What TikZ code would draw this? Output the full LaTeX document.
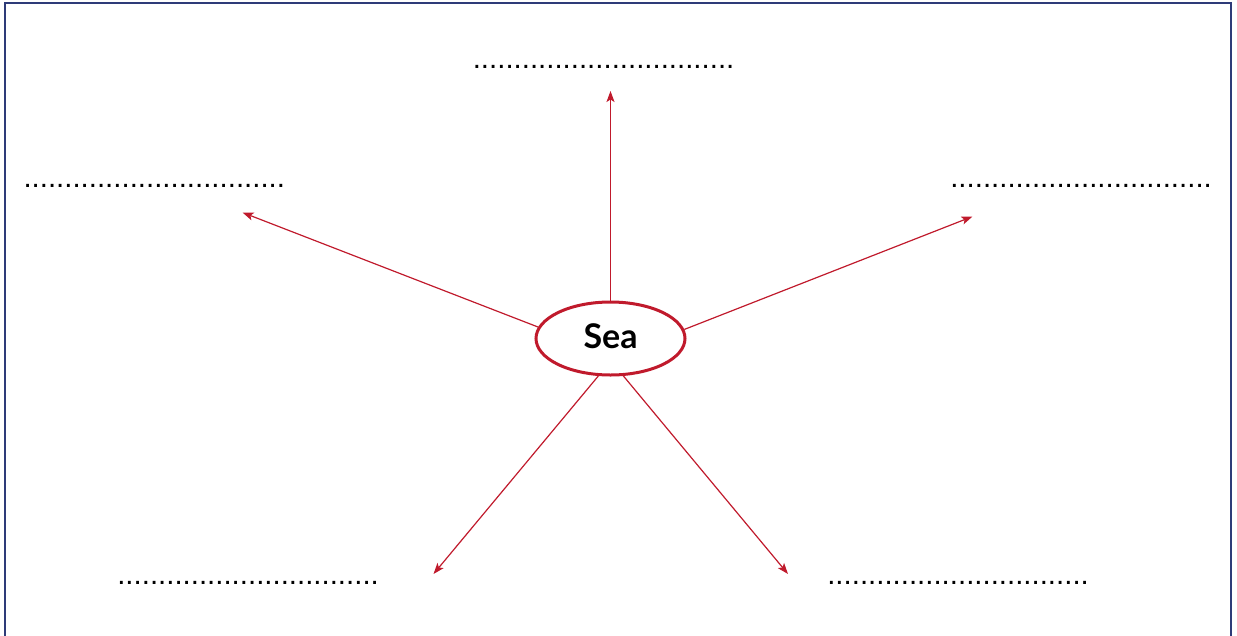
\documentclass[tikz,border=0pt]{standalone}
\usepackage{fontspec}
\setmainfont{Liberation Sans}
\newfontfamily\seafont{Lato}
\usetikzlibrary{arrows.meta,shapes.geometric}
\definecolor{seared}{HTML}{C01A2C}
\definecolor{framenavy}{HTML}{2E3B78}
\begin{document}
\begin{tikzpicture}[x=1pt,y=-1pt,
  dotline/.style={font=\fontsize{29.4}{30}\selectfont, inner sep=0pt, anchor=base},
  seanode/.style={ellipse, draw=seared, line width=3pt, inner sep=0pt,
    minimum width=149pt, minimum height=73pt, font=\seafont\bfseries\fontsize{34}{38}\selectfont},
  conn/.style={draw=seared, line width=1.2pt, -{Stealth[length=11pt,width=8pt,inset=2.5pt]}},
  framestyle/.style={draw=framenavy, line width=2pt}]
\useasboundingbox (0,0) rectangle (1237,635);
\draw[framestyle] (5,636) -- (5,3) -- (1231,3) -- (1231,636);

\node[seanode] (sea) at (610.5,338.5) {\raisebox{4pt}{Sea}};

\node[dotline] (ltop) at (603.5,68.2) {................................};
\node[dotline] (lleft) at (154.2,187.5) {................................};
\node[dotline] (lright) at (1081,187.2) {................................};
\node[dotline] (lbl) at (248,584.2) {................................};
\node[dotline] (lbr) at (958,584.2) {................................};

\coordinate (ttop) at (610.5,91);
\coordinate (tleft) at (242.5,212.5);
\coordinate (tright) at (972.5,216.5);
\coordinate (tbl) at (433.5,574);
\coordinate (tbr) at (788,574);

\draw[conn] (sea.90) -- (ttop);
\draw[conn] (sea.171.5) -- (tleft);
\draw[conn] (sea.7.6) -- (tright);
\draw[conn] (sea.252.5) -- (tbl);
\draw[conn] (sea.289) -- (tbr);
\end{tikzpicture}
\end{document}
